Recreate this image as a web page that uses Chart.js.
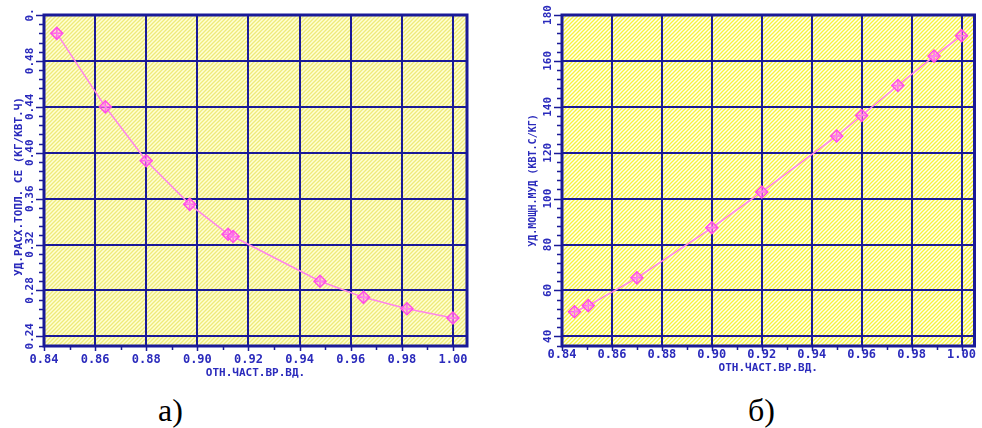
<!DOCTYPE html>
<html><head><meta charset="utf-8">
<script src="https://cdn.jsdelivr.net/npm/chart.js@4/dist/chart.umd.min.js"></script>
<style>
html,body{margin:0;padding:0;background:#fff;width:982px;height:428px;overflow:hidden;position:relative}
canvas{position:absolute;top:0}
#cA{left:0}
#cB{left:490px}
.cap{position:absolute;font-family:"Liberation Serif",serif;font-size:32px;line-height:32px;color:#000}
</style></head><body>
<canvas id="cA" width="490" height="385"></canvas>
<canvas id="cB" width="492" height="385"></canvas>
<div class="cap" style="left:158px;top:394px">а)</div>
<div class="cap" style="left:748px;top:394px">б)</div>
<script>
// а) specific fuel consumption vs relative HP spool speed
const relSpeedA = [0.845, 0.864, 0.880, 0.897, 0.912, 0.914, 0.948, 0.965, 0.982, 1.000];
const fuelRateA = [0.504, 0.440, 0.393, 0.355, 0.329, 0.327, 0.288, 0.274, 0.264, 0.256];
// б) specific power vs relative HP spool speed
const relSpeedB = [0.845, 0.8505, 0.870, 0.900, 0.920, 0.950, 0.960, 0.9745, 0.989, 1.000];
const specPowerB = [50.7, 53.4, 65.5, 87.3, 102.9, 127.3, 136.2, 149.3, 162.1, 171.0];

// tick values and their labels
const xTickValues = [0.84, 0.86, 0.88, 0.90, 0.92, 0.94, 0.96, 0.98, 1.00];
const xTickLabels = ['0.84', '0.86', '0.88', '0.90', '0.92', '0.94', '0.96', '0.98', '1.00'];
const yTickValuesA = [0.24, 0.28, 0.32, 0.36, 0.40, 0.44, 0.48, 0.52];
const yTickLabelsA = ['0.24', '0.28', '0.32', '0.36', '0.40', '0.44', '0.48', '0.'];
const yTickValuesB = [40, 60, 80, 100, 120, 140, 160, 180];
const yTickLabelsB = ['40', '60', '80', '100', '120', '140', '160', '180'];

const xTitle = 'ОТН.ЧАСТ.ВР.ВД.';
const yTitleA = 'УД.РАСХ.ТОПЛ. СЕ (КГ/КВТ.Ч)';
const yTitleB = 'УД.МОЩН.МУД (КВТ.С/КГ)';

const GRID = '#1a1a98';
const TEXT = '#2b2bbc';
const LINE = '#ff84ea';
const MARK = '#ff4fe6';
const MONO = '"DejaVu Sans Mono", monospace';

function hatch(bg, stripe) {
  const c = document.createElement('canvas');
  c.width = c.height = 4;
  const g = c.getContext('2d');
  g.fillStyle = bg;
  g.fillRect(0, 0, 4, 4);
  g.strokeStyle = stripe;
  g.lineWidth = 1.3;
  g.beginPath();
  g.moveTo(0, 4); g.lineTo(4, 0);
  g.moveTo(-1, 1); g.lineTo(1, -1);
  g.moveTo(3, 5); g.lineTo(5, 3);
  g.stroke();
  return g.createPattern(c, 'repeat');
}

// striped plot background
const hatchFill = {
  id: 'hatchFill',
  beforeDraw(chart) {
    const o = chart.options.plugins.decor;
    const a = chart.chartArea, ctx = chart.ctx;
    ctx.save();
    ctx.fillStyle = hatch(o.bg, o.stripe);
    ctx.fillRect(a.left, a.top, a.right - a.left, a.bottom - a.top);
    ctx.restore();
  }
};

// frame, minor ticks, vertical y labels and axis titles
const decor = {
  id: 'decor',
  afterDraw(chart, args, o) {
    const ctx = chart.ctx, a = chart.chartArea;
    const xs = chart.scales.x, ys = chart.scales.y;
    ctx.save();
    ctx.strokeStyle = GRID;
    ctx.lineWidth = 3;
    ctx.strokeRect(a.left, a.top, a.right - a.left, a.bottom - a.top);

    // y ticks: majors and five minor steps between them
    ctx.lineWidth = 1.5;
    const yt = ys.ticks.map(t => t.value);
    const ystep = (yt[1] - yt[0]) / 5;
    ctx.beginPath();
    for (let k = -5; k <= (yt.length - 1) * 5; k++) {
      const v = yt[0] + k * ystep;
      if (v < ys.min - 1e-9 || v > ys.max + 1e-9) continue;
      const py = Math.round(ys.getPixelForValue(v)) + 0.5;
      const len = (k % 5 === 0) ? 8 : 5;
      ctx.moveTo(a.left - len, py);
      ctx.lineTo(a.left, py);
    }
    // x ticks: one minor between majors
    const xt = xs.ticks.map(t => t.value);
    const xstep = (xt[1] - xt[0]) / 2;
    for (let k = 0; k <= (xt.length - 1) * 2; k++) {
      const v = xt[0] + k * xstep;
      const px = Math.round(xs.getPixelForValue(v)) + 0.5;
      const len = (k % 2 === 0) ? 5 : 4;
      ctx.moveTo(px, a.bottom);
      ctx.lineTo(px, a.bottom + len);
    }
    ctx.stroke();

    ctx.fillStyle = TEXT;
    ctx.textAlign = 'center';
    ctx.textBaseline = 'middle';
    ctx.font = 'bold 11px ' + MONO;
    ys.ticks.forEach((t, i) => {
      const py = ys.getPixelForValue(t.value);
      ctx.save();
      ctx.translate(o.yLabelX, py);
      ctx.rotate(-Math.PI / 2);
      ctx.fillText(o.yLabels[i], 0, 0);
      ctx.restore();
    });

    ctx.font = 'bold ' + o.yTitleSize + 'px ' + MONO;
    ctx.save();
    ctx.translate(o.yTitleX, (a.top + a.bottom) / 2 + o.yTitleShift);
    ctx.rotate(-Math.PI / 2);
    ctx.fillText(o.yTitle, 0, 0);
    ctx.restore();

    ctx.font = 'bold 11px ' + MONO;
    ctx.fillText(xTitle, (a.left + a.right) / 2, o.xTitleY);
    ctx.restore();
  }
};

function makeChart(id, xs, ys, cfg) {
  const pts = xs.map((x, i) => ({x: x, y: ys[i]}));
  return new Chart(document.getElementById(id), {
    type: 'scatter',
    data: {datasets: [
      {data: pts, showLine: true, borderColor: LINE, borderWidth: 1.5, tension: 0,
       pointStyle: 'rectRot', pointRadius: 6, pointBorderColor: MARK,
       pointBackgroundColor: 'rgba(255,150,240,0.35)', pointBorderWidth: 1.5},
      {data: pts, showLine: false, pointStyle: 'cross', pointRadius: 6,
       pointBorderColor: MARK, pointBorderWidth: 1.5}
    ]},
    options: {
      responsive: false, animation: false, events: [],
      layout: {padding: {left: 0, top: cfg.top, right: cfg.width - cfg.right, bottom: 0}},
      plugins: {legend: {display: false}, tooltip: {enabled: false}, decor: cfg},
      scales: {
        x: {type: 'linear', min: 0.84, max: cfg.xMax,
            afterBuildTicks: s => { s.ticks = xTickValues.map(v => ({value: v})); },
            afterFit: s => { s.height = cfg.height - cfg.bottom; s.paddingLeft = 0; s.paddingRight = 0; },
            grid: {color: GRID, lineWidth: 2, drawTicks: false}, border: {display: false},
            ticks: {padding: cfg.xPad, color: TEXT, font: {family: MONO, size: 12, weight: 'bold'},
                    maxRotation: 0, minRotation: 0, autoSkip: false,
                    callback: (v, i) => xTickLabels[i]}},
        y: {type: 'linear', min: cfg.yMin, max: cfg.yMax,
            afterBuildTicks: s => { s.ticks = cfg.yTicks.map(v => ({value: v})); },
            afterFit: s => { s.width = cfg.left; s.paddingTop = 0; s.paddingBottom = 0; },
            grid: {color: GRID, lineWidth: 2, drawTicks: false}, border: {display: false},
            ticks: {display: false}}
      }
    },
    plugins: [hatchFill, decor]
  });
}

makeChart('cA', relSpeedA, fuelRateA, {
  width: 490, height: 385, left: 44, right: 467, top: 15, bottom: 346,
  xMax: 1.0055, yMin: 0.2316, yMax: 0.52, yTicks: yTickValuesA, yLabels: yTickLabelsA,
  xPad: 7, yLabelX: 30, yTitleX: 19, yTitleShift: 6, yTitleSize: 11, yTitle: yTitleA,
  xTitleY: 373, bg: '#ffffd4', stripe: '#eeea7a'
});
makeChart('cB', relSpeedB, specPowerB, {
  width: 492, height: 385, left: 72, right: 485, top: 15, bottom: 346,
  xMax: 1.0052, yMin: 35.8, yMax: 180, yTicks: yTickValuesB, yLabels: yTickLabelsB,
  xPad: 2, yLabelX: 58, yTitleX: 43, yTitleShift: 0, yTitleSize: 10, yTitle: yTitleB,
  xTitleY: 368, bg: '#fffff0', stripe: '#f6f23c'
});
</script>
</body></html>
